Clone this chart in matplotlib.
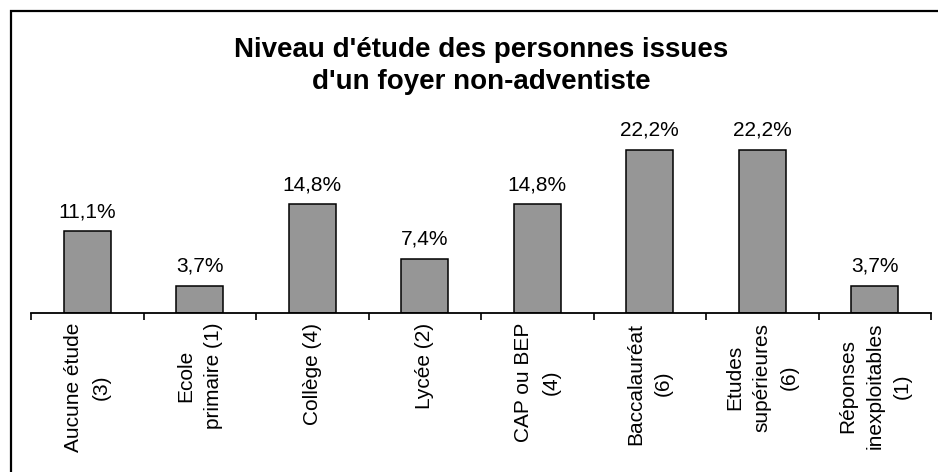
"""Bar chart: niveau d'étude des personnes issues d'un foyer non-adventiste."""
import matplotlib

matplotlib.use("Agg")
import matplotlib.pyplot as plt
from matplotlib.patches import Rectangle
from matplotlib.ticker import FixedLocator

plt.rcParams["font.family"] = ["Liberation Sans", "DejaVu Sans"]

CATEGORIES = [
    "Aucune étude\n(3)",
    "Ecole\nprimaire (1)",
    "Collège (4)",
    "Lycée (2)",
    "CAP ou BEP\n(4)",
    "Baccalauréat\n(6)",
    "Etudes\nsupérieures\n(6)",
    "Réponses\ninexploitables\n(1)",
]
PERCENTS = [11.1, 3.7, 14.8, 7.4, 14.8, 22.2, 22.2, 3.7]
TITLE = "Niveau d'étude des personnes issues\nd'un foyer non-adventiste"

W, H = 938, 472
BAR = "#969696"

fig = plt.figure(figsize=(W / 100, H / 100), dpi=100, facecolor="white")

# outer chart frame: only its left and top edges fall inside the picture
fig.patches.append(
    Rectangle((11 / W, -0.2), 1.2, 1.2 - 11 / H, transform=fig.transFigure,
              fill=False, edgecolor="black", lw=1.6)
)

ax = fig.add_axes([31 / W, 159 / H, 900 / W, 184 / H])
x = range(len(PERCENTS))
bars = ax.bar(x, PERCENTS, width=0.42, color=BAR, edgecolor="black", linewidth=1.1)
ax.set_xlim(-0.5, len(PERCENTS) - 0.5)
ax.set_ylim(0, 25)

for rect, v in zip(bars, PERCENTS):
    ax.annotate(f"{v:.1f}%".replace(".", ","), (rect.get_x() + rect.get_width() / 2, v),
                xytext=(0, 10), textcoords="offset points", ha="center", va="baseline",
                fontsize=15)

for side in ("left", "right", "top"):
    ax.spines[side].set_visible(False)
ax.spines["bottom"].set_linewidth(1.3)
ax.set_yticks([])

bounds = [i - 0.5 for i in range(len(PERCENTS) + 1)]
ax.xaxis.set_major_locator(FixedLocator(bounds))
ax.xaxis.set_minor_locator(FixedLocator(list(x)))
ax.tick_params(axis="x", which="major", direction="out", length=5, width=1.2, labelbottom=False)
ax.tick_params(axis="x", which="minor", length=0, pad=7)
ax.set_xticks(list(x), CATEGORIES, minor=True, rotation=90, fontsize=15, va="top",
              ha="center", multialignment="center", linespacing=1.55)

ax.text(0.5, 276 / 184, TITLE, transform=ax.transAxes, ha="center", va="top",
        fontsize=20, fontweight="bold", linespacing=1.3)

fig.savefig("out.png", dpi=100, facecolor="white")
